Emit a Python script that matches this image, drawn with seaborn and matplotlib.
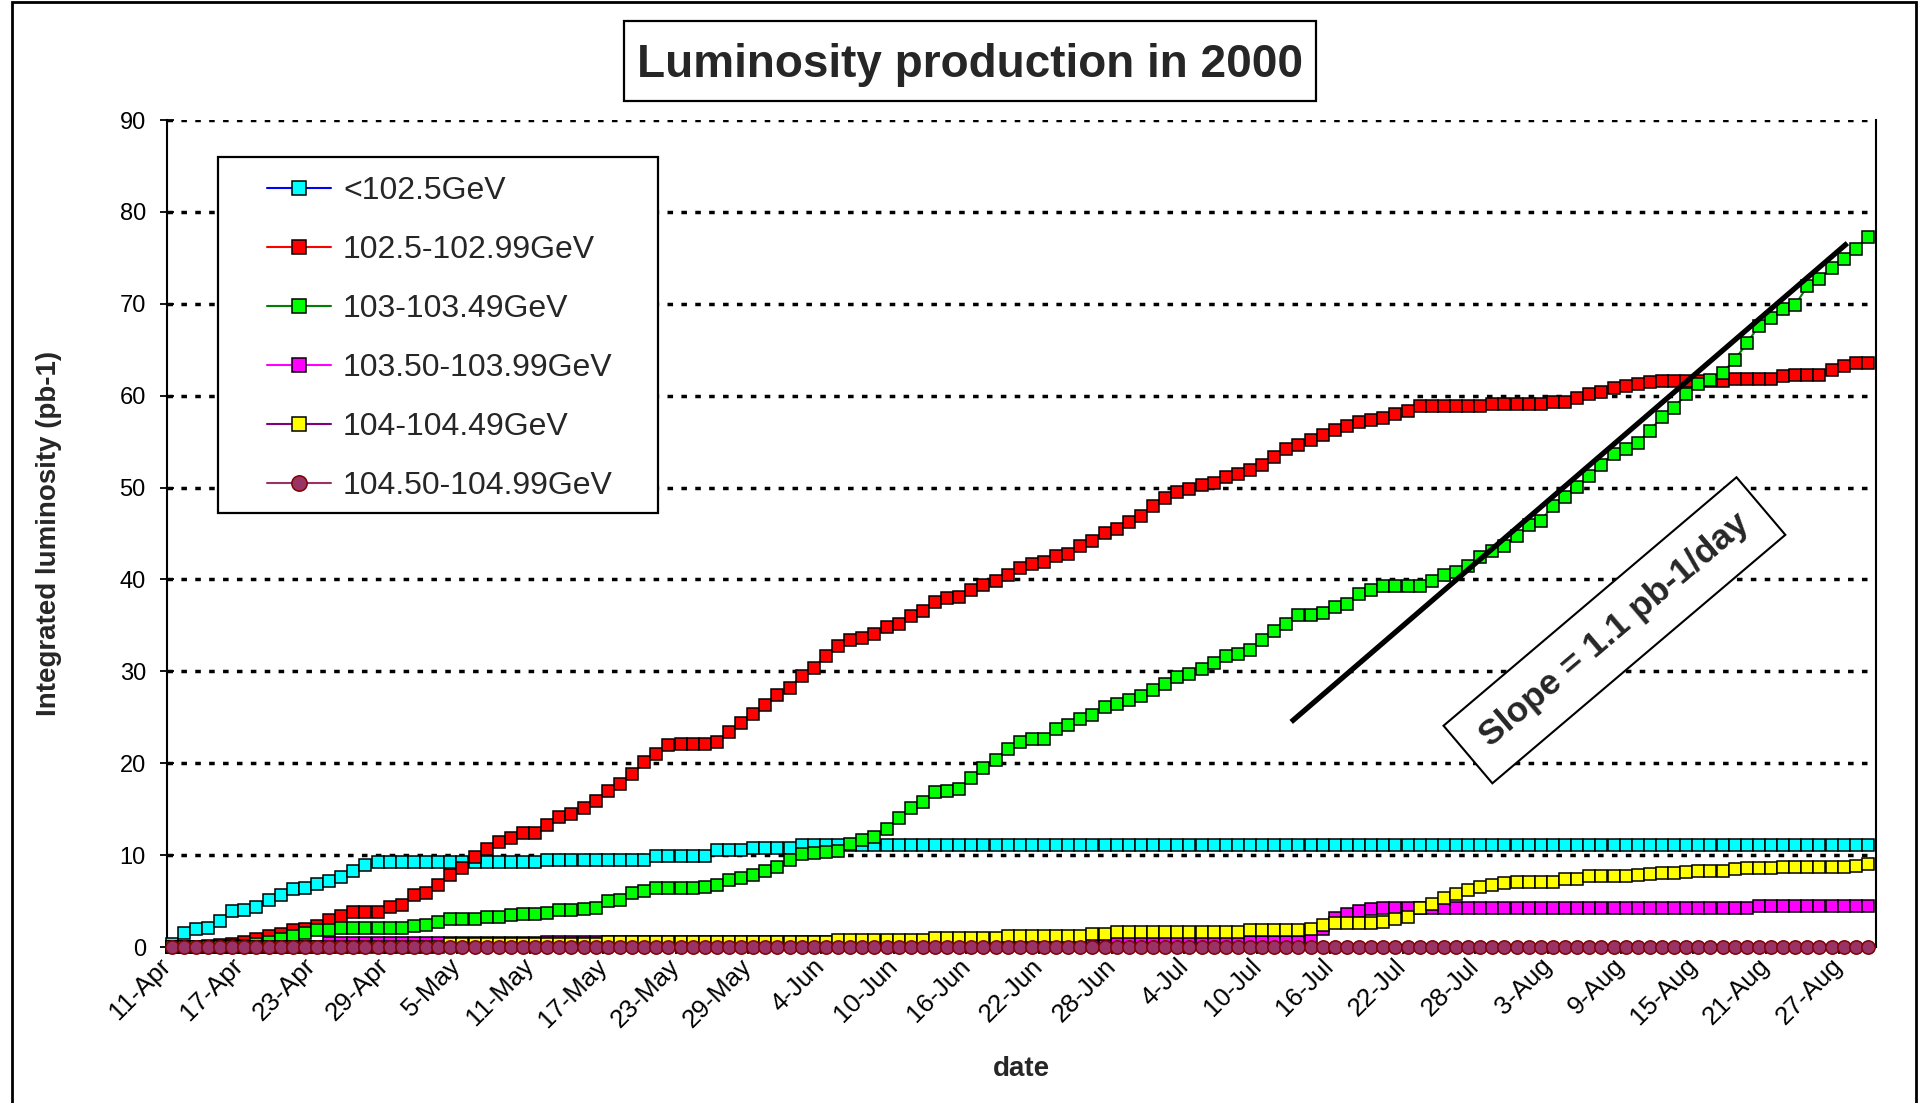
import numpy as np
import seaborn as sns
import matplotlib.pyplot as plt
from matplotlib.patches import Rectangle

# one value per day, 11-Apr .. 29-Aug 2000 (141 days)
tick_labels = ['11-Apr', '17-Apr', '23-Apr', '29-Apr', '5-May', '11-May', '17-May', '23-May',
               '29-May', '4-Jun', '10-Jun', '16-Jun', '22-Jun', '28-Jun', '4-Jul', '10-Jul',
               '16-Jul', '22-Jul', '28-Jul', '3-Aug', '9-Aug', '15-Aug', '21-Aug', '27-Aug']

series_names = ['<102.5GeV', '102.5-102.99GeV', '103-103.49GeV',
                '103.50-103.99GeV', '104-104.49GeV', '104.50-104.99GeV']

lumi_below_1025 = [
    0.3, 1.5, 2.0, 2.1, 2.8, 3.9, 4.0, 4.4, 5.1, 5.7,
    6.3, 6.4, 6.9, 7.2, 7.6, 8.3, 8.9, 9.2, 9.2, 9.2,
    9.2, 9.2, 9.2, 9.2, 9.2, 9.2, 9.2, 9.2, 9.2, 9.2,
    9.2, 9.5, 9.5, 9.5, 9.5, 9.5, 9.5, 9.5, 9.5, 9.5,
    9.9, 9.9, 9.9, 9.9, 9.9, 10.6, 10.6, 10.6, 10.8, 10.8,
    10.8, 10.8, 11.1, 11.1, 11.1, 11.1, 11.1, 11.1, 11.1, 11.1,
    11.1, 11.1, 11.1, 11.1, 11.1, 11.1, 11.1, 11.1, 11.1, 11.1,
    11.1, 11.1, 11.1, 11.1, 11.1, 11.1, 11.1, 11.1, 11.1, 11.1,
    11.1, 11.1, 11.1, 11.1, 11.1, 11.1, 11.1, 11.1, 11.1, 11.1,
    11.1, 11.1, 11.1, 11.1, 11.1, 11.1, 11.1, 11.1, 11.1, 11.1,
    11.1, 11.1, 11.1, 11.1, 11.1, 11.1, 11.1, 11.1, 11.1, 11.1,
    11.1, 11.1, 11.1, 11.1, 11.1, 11.1, 11.1, 11.1, 11.1, 11.1,
    11.1, 11.1, 11.1, 11.1, 11.1, 11.1, 11.1, 11.1, 11.1, 11.1,
    11.1, 11.1, 11.1, 11.1, 11.1, 11.1, 11.1, 11.1, 11.1, 11.1,
    11.1]

lumi_1025_10299 = [
    0.0, 0.0, 0.0, 0.1, 0.2, 0.3, 0.5, 0.9, 1.2, 1.4,
    1.8, 2.0, 2.3, 2.9, 3.4, 3.8, 3.8, 3.8, 4.4, 4.6,
    5.7, 5.9, 6.7, 7.8, 8.6, 9.8, 10.7, 11.4, 11.9, 12.4,
    12.4, 13.3, 14.2, 14.5, 15.1, 15.9, 17.0, 17.7, 18.8, 20.1,
    21.0, 22.0, 22.1, 22.1, 22.1, 22.3, 23.4, 24.4, 25.4, 26.3,
    27.4, 28.2, 29.5, 30.4, 31.7, 32.8, 33.4, 33.6, 34.1, 34.8,
    35.2, 36.0, 36.6, 37.5, 38.0, 38.1, 38.8, 39.4, 39.8, 40.5,
    41.3, 41.7, 41.9, 42.6, 42.8, 43.6, 44.2, 45.1, 45.5, 46.2,
    46.9, 48.0, 48.9, 49.5, 49.8, 50.3, 50.5, 51.1, 51.5, 51.9,
    52.5, 53.3, 54.2, 54.6, 55.2, 55.7, 56.3, 56.7, 57.1, 57.3,
    57.6, 58.0, 58.3, 58.9, 58.9, 58.9, 58.9, 58.9, 58.9, 59.1,
    59.1, 59.1, 59.1, 59.1, 59.3, 59.3, 59.8, 60.2, 60.4, 60.8,
    61.1, 61.3, 61.5, 61.6, 61.6, 61.6, 61.6, 61.6, 61.6, 61.8,
    61.8, 61.8, 61.8, 62.1, 62.3, 62.3, 62.3, 62.8, 63.2, 63.6,
    63.6]

lumi_103_10349 = [
    0.0, 0.0, 0.0, 0.0, 0.0, 0.1, 0.1, 0.3, 0.5, 0.9,
    1.2, 1.5, 1.8, 1.8, 2.1, 2.1, 2.1, 2.1, 2.1, 2.1,
    2.3, 2.4, 2.7, 3.0, 3.1, 3.1, 3.3, 3.3, 3.5, 3.6,
    3.6, 3.7, 4.0, 4.0, 4.1, 4.3, 5.0, 5.1, 5.9, 6.1,
    6.4, 6.4, 6.4, 6.4, 6.5, 6.8, 7.3, 7.5, 7.8, 8.3,
    8.7, 9.5, 10.1, 10.2, 10.3, 10.4, 11.2, 11.7, 12.0, 12.8,
    14.0, 15.1, 15.8, 16.9, 17.0, 17.2, 18.4, 19.5, 20.4, 21.6,
    22.3, 22.6, 22.6, 23.7, 24.2, 24.8, 25.2, 26.1, 26.5, 26.9,
    27.3, 28.0, 28.6, 29.4, 29.7, 30.3, 30.9, 31.7, 31.9, 32.3,
    33.4, 34.4, 35.2, 36.1, 36.1, 36.3, 37.0, 37.3, 38.4, 38.9,
    39.3, 39.3, 39.3, 39.3, 39.8, 40.5, 40.8, 41.5, 42.4, 43.1,
    43.6, 44.7, 45.9, 46.4, 48.0, 49.0, 50.1, 51.3, 52.5, 53.7,
    54.2, 54.9, 56.2, 57.7, 58.7, 60.2, 61.3, 61.7, 62.5, 63.9,
    65.7, 67.6, 68.4, 69.4, 69.9, 71.9, 72.7, 73.9, 74.9, 76.0,
    77.3]

lumi_10350_10399 = [
    0.0, 0.0, 0.0, 0.0, 0.0, 0.0, 0.0, 0.0, 0.0, 0.0,
    0.0, 0.0, 0.0, 0.4, 0.4, 0.4, 0.4, 0.4, 0.4, 0.4,
    0.4, 0.4, 0.4, 0.4, 0.4, 0.4, 0.4, 0.4, 0.4, 0.4,
    0.4, 0.6, 0.6, 0.6, 0.6, 0.6, 0.6, 0.6, 0.6, 0.6,
    0.6, 0.6, 0.6, 0.6, 0.6, 0.6, 0.6, 0.6, 0.6, 0.6,
    0.6, 0.6, 0.6, 0.6, 0.6, 0.6, 0.6, 0.6, 0.6, 0.6,
    0.6, 0.6, 0.6, 0.6, 0.6, 0.6, 0.6, 0.6, 0.6, 0.6,
    0.6, 0.6, 0.6, 0.6, 0.6, 0.6, 0.6, 0.6, 0.6, 0.6,
    0.6, 0.6, 0.6, 0.6, 0.6, 0.6, 0.6, 0.6, 0.6, 0.6,
    0.6, 0.6, 0.6, 0.6, 1.0, 2.0, 3.2, 3.6, 3.9, 4.1,
    4.2, 4.3, 4.3, 4.3, 4.3, 4.3, 4.3, 4.3, 4.3, 4.3,
    4.3, 4.3, 4.3, 4.3, 4.3, 4.3, 4.3, 4.3, 4.3, 4.3,
    4.3, 4.3, 4.3, 4.3, 4.3, 4.3, 4.3, 4.3, 4.3, 4.3,
    4.3, 4.45, 4.45, 4.45, 4.45, 4.45, 4.45, 4.45, 4.45, 4.45,
    4.45]

lumi_104_10449 = [
    0.0, 0.0, 0.0, 0.0, 0.0, 0.0, 0.0, 0.0, 0.0, 0.0,
    0.0, 0.0, 0.0, 0.0, 0.0, 0.0, 0.0, 0.0, 0.0, 0.0,
    0.0, 0.0, 0.0, 0.3, 0.3, 0.3, 0.3, 0.3, 0.3, 0.3,
    0.3, 0.3, 0.3, 0.3, 0.3, 0.3, 0.6, 0.6, 0.6, 0.6,
    0.6, 0.6, 0.6, 0.6, 0.6, 0.6, 0.6, 0.6, 0.6, 0.6,
    0.6, 0.6, 0.6, 0.6, 0.6, 0.8, 0.8, 0.8, 0.8, 0.8,
    0.8, 0.8, 0.8, 1.0, 1.0, 1.0, 1.0, 1.0, 1.0, 1.2,
    1.2, 1.2, 1.2, 1.2, 1.2, 1.2, 1.4, 1.4, 1.6, 1.6,
    1.6, 1.6, 1.6, 1.6, 1.6, 1.6, 1.6, 1.6, 1.6, 1.8,
    1.8, 1.8, 1.8, 1.9, 2.0, 2.4, 2.6, 2.6, 2.6, 2.6,
    2.7, 3.1, 3.3, 4.2, 4.7, 5.3, 5.8, 6.2, 6.5, 6.8,
    7.0, 7.1, 7.1, 7.1, 7.1, 7.4, 7.4, 7.7, 7.7, 7.7,
    7.7, 7.8, 7.9, 8.1, 8.1, 8.2, 8.3, 8.3, 8.3, 8.5,
    8.6, 8.6, 8.6, 8.7, 8.7, 8.7, 8.7, 8.7, 8.7, 8.8,
    9.0]

lumi_10450_10499 = [
    0.0, 0.0, 0.0, 0.0, 0.0, 0.0, 0.0, 0.0, 0.0, 0.0,
    0.0, 0.0, 0.0, 0.0, 0.0, 0.0, 0.0, 0.0, 0.0, 0.0,
    0.0, 0.0, 0.0, 0.0, 0.0, 0.0, 0.0, 0.0, 0.0, 0.0,
    0.0, 0.0, 0.0, 0.0, 0.0, 0.0, 0.0, 0.0, 0.0, 0.0,
    0.0, 0.0, 0.0, 0.0, 0.0, 0.0, 0.0, 0.0, 0.0, 0.0,
    0.0, 0.0, 0.0, 0.0, 0.0, 0.0, 0.0, 0.0, 0.0, 0.0,
    0.0, 0.0, 0.0, 0.0, 0.0, 0.0, 0.0, 0.0, 0.0, 0.0,
    0.0, 0.0, 0.0, 0.0, 0.0, 0.0, 0.0, 0.0, 0.0, 0.0,
    0.0, 0.0, 0.0, 0.0, 0.0, 0.0, 0.0, 0.0, 0.0, 0.0,
    0.0, 0.0, 0.0, 0.0, 0.0, 0.0, 0.0, 0.0, 0.0, 0.0,
    0.0, 0.0, 0.0, 0.0, 0.0, 0.0, 0.0, 0.0, 0.0, 0.0,
    0.0, 0.0, 0.0, 0.0, 0.0, 0.0, 0.0, 0.0, 0.0, 0.0,
    0.0, 0.0, 0.0, 0.0, 0.0, 0.0, 0.0, 0.0, 0.0, 0.0,
    0.0, 0.0, 0.0, 0.0, 0.0, 0.0, 0.0, 0.0, 0.0, 0.0,
    0.0]

# hand-drawn slope guide (day index, pb-1)
slope_days = [92.4, 138.3]
slope_lumi = [24.5, 76.6]

sns.set_theme(style='white')
plt.rcParams['font.family'] = ['Liberation Sans', 'DejaVu Sans']

fig = plt.figure(figsize=(19.29, 11.03), dpi=100)
ax = fig.add_axes([0.0864, 0.1414, 0.8861, 0.7498])

all_series = [lumi_below_1025, lumi_1025_10299, lumi_103_10349,
              lumi_10350_10399, lumi_104_10449, lumi_10450_10499]
line_colors = ['#0000ff', '#ff0000', '#008000', '#ff00ff', '#800080', '#993366']
face_colors = ['#00ffff', '#ff0000', '#00ff00', '#ff00ff', '#ffff00', '#993366']
edge_colors = ['black', 'black', 'black', 'black', 'black', '#800000']
markers = ['s', 's', 's', 's', 's', 'o']
msizes = [8.6, 8.6, 8.6, 8.6, 8.6, 9.6]

days = np.arange(len(lumi_below_1025))
for k, vals in enumerate(all_series):
    sns.lineplot(x=days, y=vals, ax=ax, color=line_colors[k], label=series_names[k],
                 marker=markers[k], markersize=msizes[k], markerfacecolor=face_colors[k],
                 markeredgecolor=edge_colors[k], markeredgewidth=1.1, linewidth=1.5,
                 errorbar=None, clip_on=False, zorder=3 + k * 0.1)

ax.plot(slope_days, slope_lumi, color='black', linewidth=3.8, solid_capstyle='butt', zorder=4)

ax.set_xlim(-0.41, 140.66)
ax.set_ylim(0, 90)
ax.set_yticks(range(0, 91, 10))
ax.set_xticks(np.arange(0, 139, 6) - 0.41)
ax.set_xticklabels(tick_labels, rotation=45, ha='right', va='center', rotation_mode='anchor')
ax.set_xlabel('')
ax.set_ylabel('')

ax.yaxis.grid(True, color='black', linestyle=(0, (1.6, 2.4)), linewidth=2.5)
ax.xaxis.grid(False)
ax.set_axisbelow(True)
for side in ['left', 'right', 'bottom']:
    ax.spines[side].set_color('black')
    ax.spines[side].set_linewidth(1.5)
ax.spines['top'].set_visible(False)
ax.tick_params(axis='y', direction='inout', length=10, width=1.3, color='black',
               labelsize=17, pad=10, labelcolor='black', left=True)
ax.tick_params(axis='x', direction='out', length=5, width=1.3, color='black',
               labelsize=18.5, pad=6, labelcolor='black', bottom=True)

# legend: white box, entries placed inside
ax.add_patch(Rectangle((0.1130, 0.5349), 0.2281, 0.3228, transform=fig.transFigure,
                       facecolor='white', edgecolor='black', linewidth=1.6, zorder=5))
handles, labels = ax.get_legend_handles_labels()
leg = ax.legend(handles, labels, loc='upper left', bbox_to_anchor=(0.1384, 0.8404),
                bbox_transform=fig.transFigure, frameon=False, fontsize=23,
                handlelength=2.0, handletextpad=0.38, labelspacing=0.91,
                borderpad=0, borderaxespad=0, markerscale=1.15)
leg.set_zorder(6)

ax.text(0.847, 0.383, 'Slope = 1.1 pb-1/day', transform=ax.transAxes, rotation=40.3,
        rotation_mode='anchor', ha='center', va='center', fontsize=25.5, fontweight='bold',
        bbox=dict(boxstyle='square,pad=0.6', facecolor='white', edgecolor='black',
                  linewidth=1.5), zorder=6)

# title box
fig.patches.append(Rectangle((0.3235, 0.9084), 0.3587, 0.0725, transform=fig.transFigure,
                             facecolor='white', edgecolor='black', linewidth=1.6))
fig.text(0.5028, 0.9415, 'Luminosity production in 2000', ha='center', va='center',
         fontsize=33, fontweight='bold')

fig.text(0.0254, 0.516, 'Integrated luminosity (pb-1)', rotation=90, ha='center',
         va='center', fontsize=20, fontweight='bold')
fig.text(0.5293, 0.0308, 'date', ha='center', va='center', fontsize=20, fontweight='bold')

# outer chart border
fig.patches.append(Rectangle((0.0062, -0.01), 0.9870, 1.0082, transform=fig.transFigure,
                             facecolor='none', edgecolor='black', linewidth=2.0))

fig.savefig('out.png', dpi=100)
